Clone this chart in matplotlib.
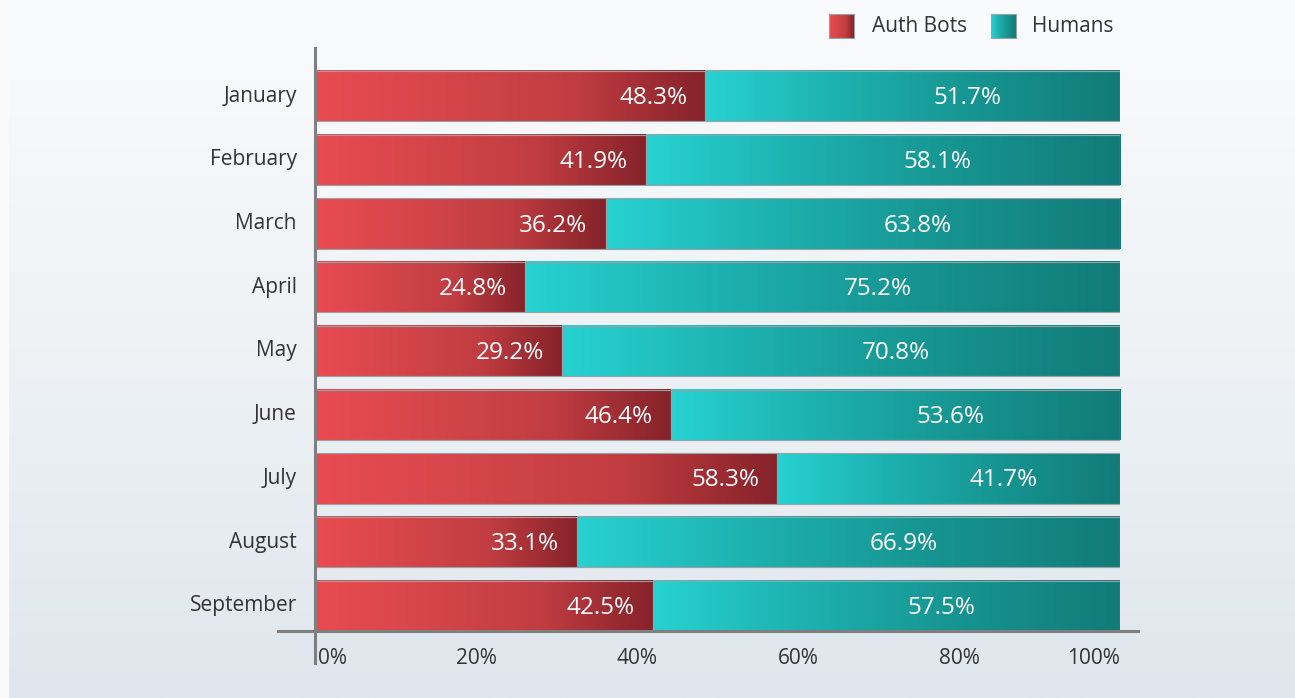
import numpy as np
import matplotlib
matplotlib.use("Agg")
import matplotlib.pyplot as plt
from matplotlib.colors import LinearSegmentedColormap
from matplotlib.transforms import ScaledTranslation

# data
months = ['January', 'February', 'March', 'April', 'May', 'June', 'July', 'August', 'September']
# bar lengths as drawn in the picture (share of Auth Bots, %)
bot_share = [48.5, 41.1, 36.1, 26.1, 30.7, 44.2, 57.4, 32.6, 42.0]
human_share = [100 - v for v in bot_share]
# printed labels
bot_labels = ['48.3%', '41.9%', '36.2%', '24.8%', '29.2%', '46.4%', '58.3%', '33.1%', '42.5%']
human_labels = ['51.7%', '58.1%', '63.8%', '75.2%', '70.8%', '53.6%', '41.7%', '66.9%', '57.5%']
xticks = [0, 20, 40, 60, 80, 100]
xtick_labels = ['0%', '20%', '40%', '60%', '80%', '100%']
series_names = ['Auth Bots', 'Humans']

plt.rcParams['font.family'] = ['Open Sans', 'DejaVu Sans']

red_cmap = LinearSegmentedColormap.from_list('red', ['#e94b51', '#d4464a', '#c13d41', '#86222a'])
teal_cmap = LinearSegmentedColormap.from_list('teal', ['#27d2d1', '#1db0ae', '#169390', '#127b78'])
grad = np.linspace(0, 1, 256).reshape(1, -1)

W, H = 1295, 698
fig = plt.figure(figsize=(W / 100, H / 100), dpi=100)

# background gradient
bg = fig.add_axes([0, 0, 1, 1], zorder=-10)
vgrad = np.linspace(0, 1, 256).reshape(-1, 1)
bg_cmap = LinearSegmentedColormap.from_list('bg', ['#fafbfc', '#eef2f5', '#dfe6ed'])
bg.imshow(vgrad, cmap=bg_cmap, aspect='auto', extent=[0, 1, 0, 1], origin='upper')
bg.axvspan(0, 8 / W, color='#fafafa')
bg.set_xlim(0, 1)
bg.set_ylim(0, 1)
bg.axis('off')

left, right = 315 / W, 1120 / W
top, bottom = 1 - 48 / H, 1 - 631 / H
ax = fig.add_axes([left, bottom, right - left, top - bottom])
ax.patch.set_alpha(0)

y = np.arange(len(months))
bar_h = 0.79
red_bars = ax.barh(y, bot_share, height=bar_h, facecolor='none', edgecolor='#9aa2a8', linewidth=0.8, zorder=3)
teal_bars = ax.barh(y, human_share, left=bot_share, height=bar_h, facecolor='none', edgecolor='#9aa2a8', linewidth=0.8, zorder=3)

for bars, cmap in [(red_bars, red_cmap), (teal_bars, teal_cmap)]:
    for b in bars:
        x0, y0 = b.get_x(), b.get_y()
        ax.imshow(grad, cmap=cmap, aspect='auto', zorder=2,
                  extent=[x0, x0 + b.get_width(), y0 + b.get_height(), y0])

for i in range(len(months)):
    ax.annotate(bot_labels[i], (bot_share[i], y[i]), xytext=(-18, -2),
                textcoords='offset pixels', ha='right', va='center',
                color='white', fontsize=17.5, zorder=5)
    ax.annotate(human_labels[i], (bot_share[i] + human_share[i] / 2, y[i]), xytext=(55, -2),
                textcoords='offset pixels', ha='center', va='center',
                color='white', fontsize=17.5, zorder=5)

ax.set_xlim(0, 100)
ax.set_ylim(8 + 0.395, -0.755)
for s in ax.spines.values():
    s.set_visible(False)

ax.set_xticks(xticks)
ax.set_xticklabels(xtick_labels)
ax.set_yticks(y)
ax.set_yticklabels(months)
ax.tick_params(axis='both', length=0, labelsize=15, colors='#333333')
ax.tick_params(axis='y', pad=13)
ax.tick_params(axis='x', pad=12)
xl = ax.get_xticklabels()
xl[0].set_ha('left')
xl[0].set_transform(xl[0].get_transform() + ScaledTranslation(0.03, 0, fig.dpi_scale_trans))
xl[-1].set_ha('right')
for lab in ax.get_yticklabels():
    lab.set_transform(lab.get_transform() + ScaledTranslation(0, 0.025, fig.dpi_scale_trans))

# axis lines
axw = (right - left) * W
axh = (top - bottom) * H
ax.plot([0, 0], [-32 / axh, 1], transform=ax.transAxes, color='#7f7f7f', lw=2.2, clip_on=False, zorder=6)
ax.plot([-37 / axw, 1 + 18 / axw], [0, 0], transform=ax.transAxes, color='#7f7f7f', lw=2.2, clip_on=False, zorder=6)

# legend
for name, cmap, sx, tx in [(series_names[0], red_cmap, 829, 872), (series_names[1], teal_cmap, 991, 1032)]:
    la = fig.add_axes([sx / W, 1 - 38 / H, 25 / W, 24 / H])
    la.imshow(grad, cmap=cmap, aspect='auto')
    for s in la.spines.values():
        s.set_color('#9aa2a8')
        s.set_linewidth(0.8)
    la.set_xticks([])
    la.set_yticks([])
    fig.text(tx / W, 1 - 26 / H, name, ha='left', va='center', fontsize=15, color='#333333')

fig.savefig('out.png', dpi=100)
